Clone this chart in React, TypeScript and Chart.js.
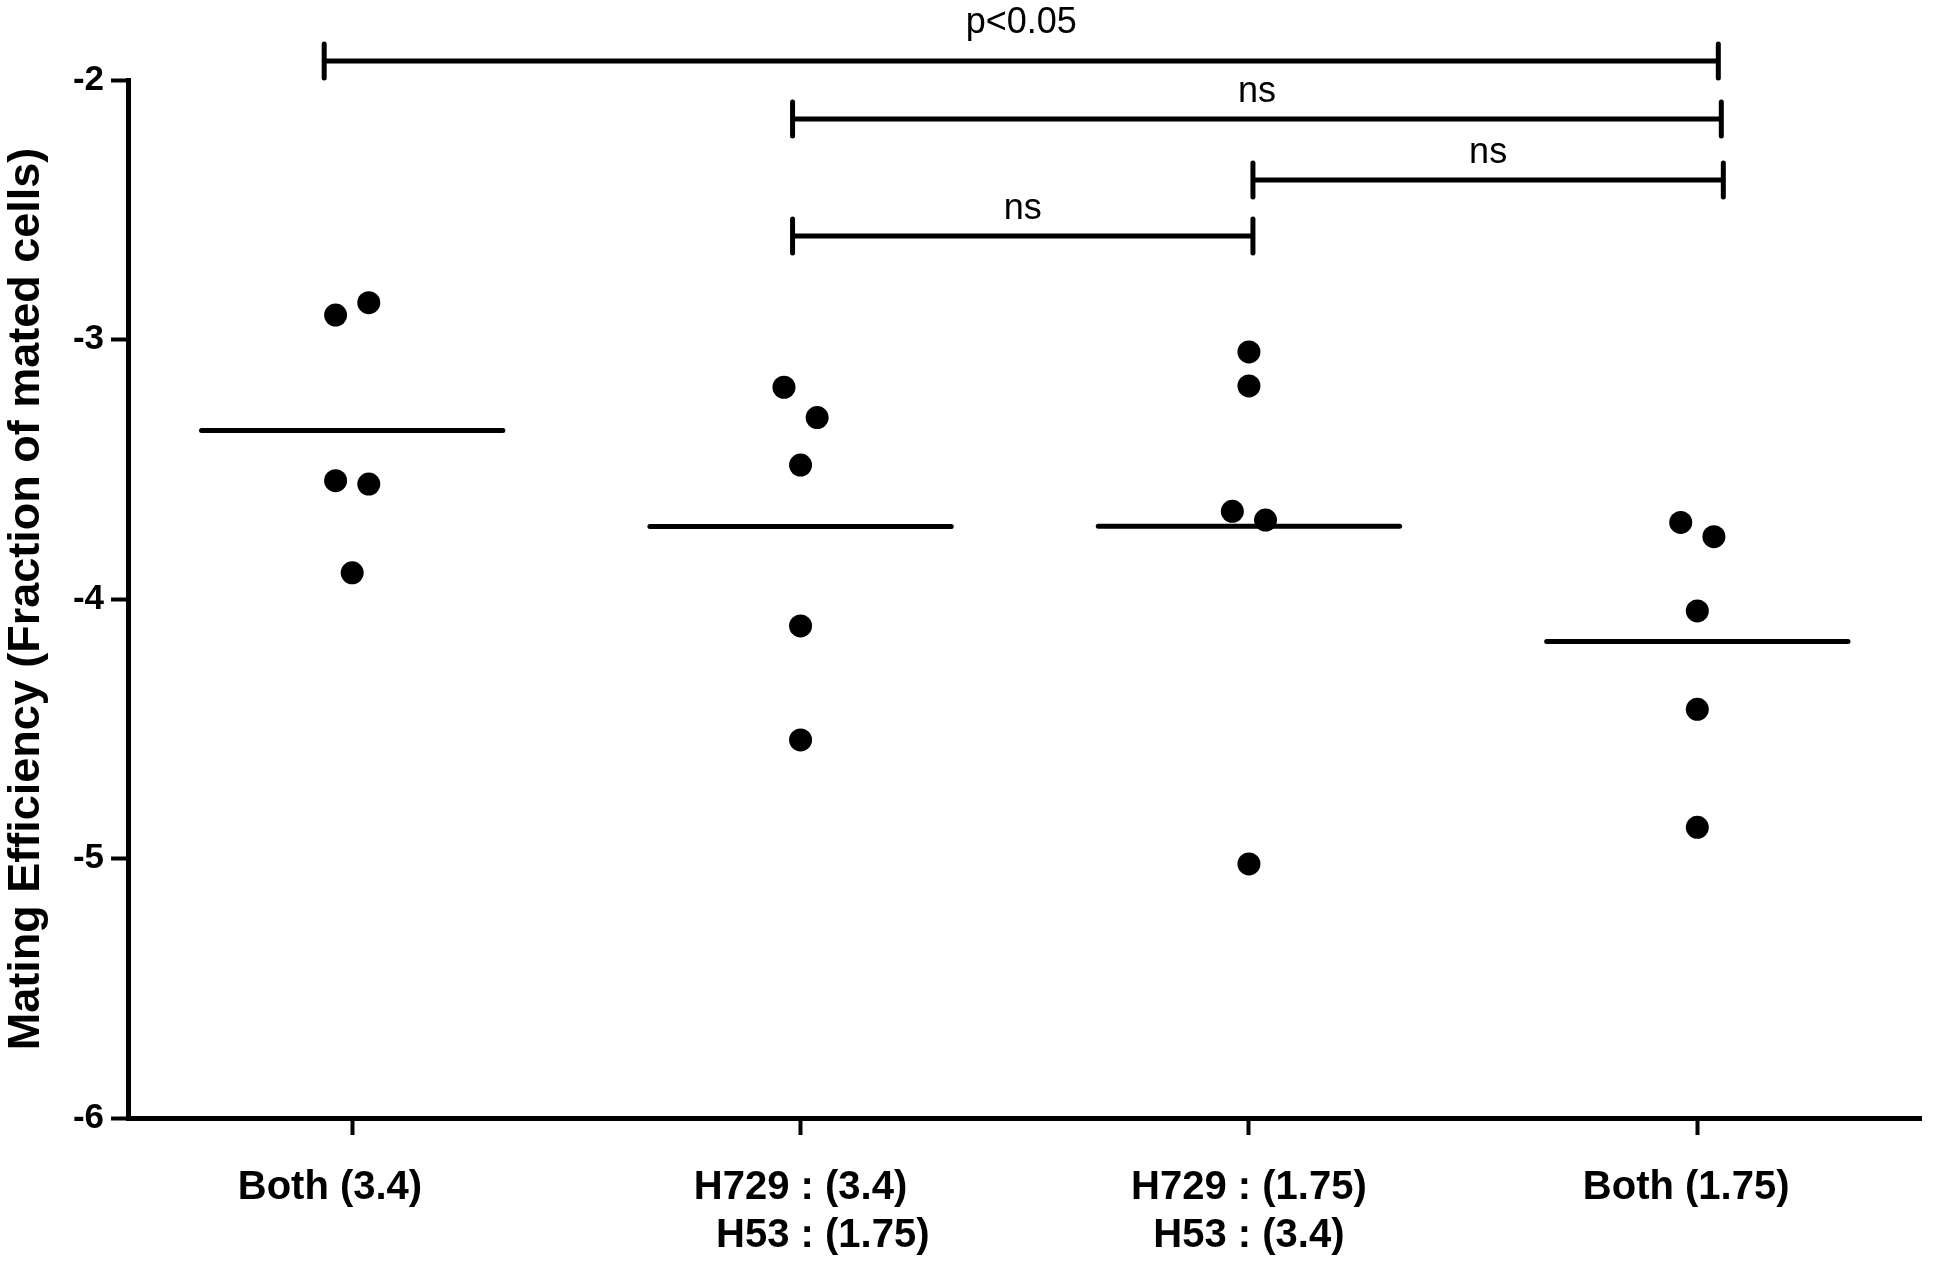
import React, { useEffect, useRef } from "react";
import { Chart, registerables } from "chart.js";

Chart.register(...registerables);

// ---- data ----
const categories: string[][] = [
  ["Both (3.4)    "],
  ["H729 : (3.4)", "    H53 : (1.75)"],
  ["H729 : (1.75)", "H53 : (3.4)"],
  ["Both (1.75)  "],
];
const bothHigh = [-2.906, -2.858, -3.544, -3.557, -3.899];
const h729HighH53Low = [-3.184, -3.301, -3.484, -4.104, -4.543];
const h729LowH53High = [-3.048, -3.179, -3.662, -3.696, -5.021];
const bothLow = [-3.705, -3.76, -4.046, -4.425, -4.88];
const groupMeans = [-3.351, -3.721, -3.72, -4.164];
const yTickValues = [-2, -3, -4, -5, -6];
const yTitle = "Mating Efficiency (Fraction of mated cells)";

const bracketFrom = [0, 1, 2, 1];
const bracketTo = [3, 3, 3, 2];
const bracketLevel = [-1.927, -2.15, -2.385, -2.601];
const bracketLabels = ["p<0.05", "ns", "ns", "ns"];

// ---- layout / style (not data) ----
const groups = [bothHigh, h729HighH53Low, h729LowH53High, bothLow];
const jitterSide = [
  [-1, 1, -1, 1, 0],
  [-1, 1, 0, 0, 0],
  [0, 0, -1, 1, 0],
  [-1, 1, 0, 0, 0],
];
const JITTER = 0.037;
const MEAN_HALF = 0.336;
const bracketFromShiftPx = [-28, -8, 4, -8];
const bracketToShiftPx = [21, 24, 26, 4];
const bracketLabelGapPx = [28, 17, 17, 17];
const FONT = "'Liberation Sans', Arial, Helvetica, sans-serif";

const bracketPlugin = {
  id: "brackets",
  afterDraw(chart: any) {
    const { ctx, scales } = chart;
    const xs = scales.x;
    const ys = scales.y;
    ctx.save();
    ctx.strokeStyle = "#000";
    ctx.fillStyle = "#000";
    ctx.lineWidth = 5;
    ctx.lineCap = "round";
    ctx.font = `36px ${FONT}`;
    ctx.textAlign = "center";
    ctx.textBaseline = "alphabetic";
    for (let i = 0; i < bracketLevel.length; i++) {
      const x1 = xs.getPixelForValue(bracketFrom[i]) + bracketFromShiftPx[i];
      const x2 = xs.getPixelForValue(bracketTo[i]) + bracketToShiftPx[i];
      const yy = ys.getPixelForValue(bracketLevel[i]);
      ctx.beginPath();
      ctx.moveTo(x1, yy);
      ctx.lineTo(x2, yy);
      ctx.moveTo(x1, yy - 17);
      ctx.lineTo(x1, yy + 17);
      ctx.moveTo(x2, yy - 17);
      ctx.lineTo(x2, yy + 17);
      ctx.stroke();
      ctx.fillText(bracketLabels[i], (x1 + x2) / 2, yy - bracketLabelGapPx[i]);
    }
    ctx.restore();
  },
};

export default function App() {
  const canvasRef = useRef<HTMLCanvasElement | null>(null);

  useEffect(() => {
    if (!canvasRef.current) return;

    const pointDatasets = groups.map((vals, gi) => ({
      type: "scatter" as const,
      data: vals.map((v, pi) => ({ x: gi + jitterSide[gi][pi] * JITTER, y: v })),
      pointRadius: 11.5,
      pointHoverRadius: 11.5,
      pointBackgroundColor: "#000",
      pointBorderWidth: 0,
      showLine: false,
    }));

    const meanDatasets = groupMeans.map((m, gi) => ({
      type: "line" as const,
      data: [
        { x: gi - MEAN_HALF, y: m },
        { x: gi + MEAN_HALF, y: m },
      ],
      borderColor: "#000",
      borderWidth: 5,
      borderCapStyle: "round" as const,
      pointRadius: 0,
      pointHoverRadius: 0,
      fill: false,
    }));

    const chart = new Chart(canvasRef.current, {
      type: "scatter",
      data: { datasets: [...meanDatasets, ...pointDatasets] as any },
      plugins: [bracketPlugin],
      options: {
        animation: false,
        responsive: false,
        maintainAspectRatio: false,
        devicePixelRatio: 1,
        events: [],
        layout: { padding: { top: 80, right: 7, left: 0, bottom: 0 } },
        plugins: {
          legend: { display: false },
          tooltip: { enabled: false },
        },
        scales: {
          x: {
            type: "linear",
            min: -0.5,
            max: 3.5,
            afterBuildTicks: (s: any) => {
              s.ticks = categories.map((_, i) => ({ value: i }));
            },
            afterFit: (s: any) => {
              s.height = 149;
            },
            ticks: {
              autoSkip: false,
              maxRotation: 0,
              minRotation: 0,
              padding: 29,
              color: "#000",
              font: { family: FONT, size: 40, weight: "bold", lineHeight: 1.2 },
              callback: (v: any) => categories[Math.round(Number(v))] ?? "",
            },
            grid: {
              drawOnChartArea: false,
              drawTicks: true,
              tickLength: 17,
              tickWidth: 4,
              color: "#000",
            },
            border: { display: true, width: 5, color: "#000" },
          },
          y: {
            type: "linear",
            min: -6,
            max: -2,
            afterBuildTicks: (s: any) => {
              s.ticks = yTickValues.map((v) => ({ value: v }));
            },
            afterFit: (s: any) => {
              s.width = 128;
            },
            ticks: {
              padding: 7,
              color: "#000",
              font: { family: FONT, size: 35, weight: "bold" },
              callback: (v: any) => String(v),
            },
            grid: {
              drawOnChartArea: false,
              drawTicks: true,
              tickLength: 17,
              tickWidth: 4,
              color: "#000",
            },
            border: { display: true, width: 5, color: "#000" },
            title: {
              display: true,
              text: yTitle,
              color: "#000",
              padding: 0,
              font: { family: FONT, size: 45, weight: "bold", lineHeight: 1.2 },
            },
          },
        },
      } as any,
    });

    return () => chart.destroy();
  }, []);

  return (
    <div
      style={{
        position: "absolute",
        left: 0,
        top: 0,
        width: 1933,
        height: 1267,
        background: "#fff",
      }}
    >
      <canvas
        ref={canvasRef}
        width={1933}
        height={1267}
        style={{ display: "block", width: 1933, height: 1267 }}
      />
    </div>
  );
}
